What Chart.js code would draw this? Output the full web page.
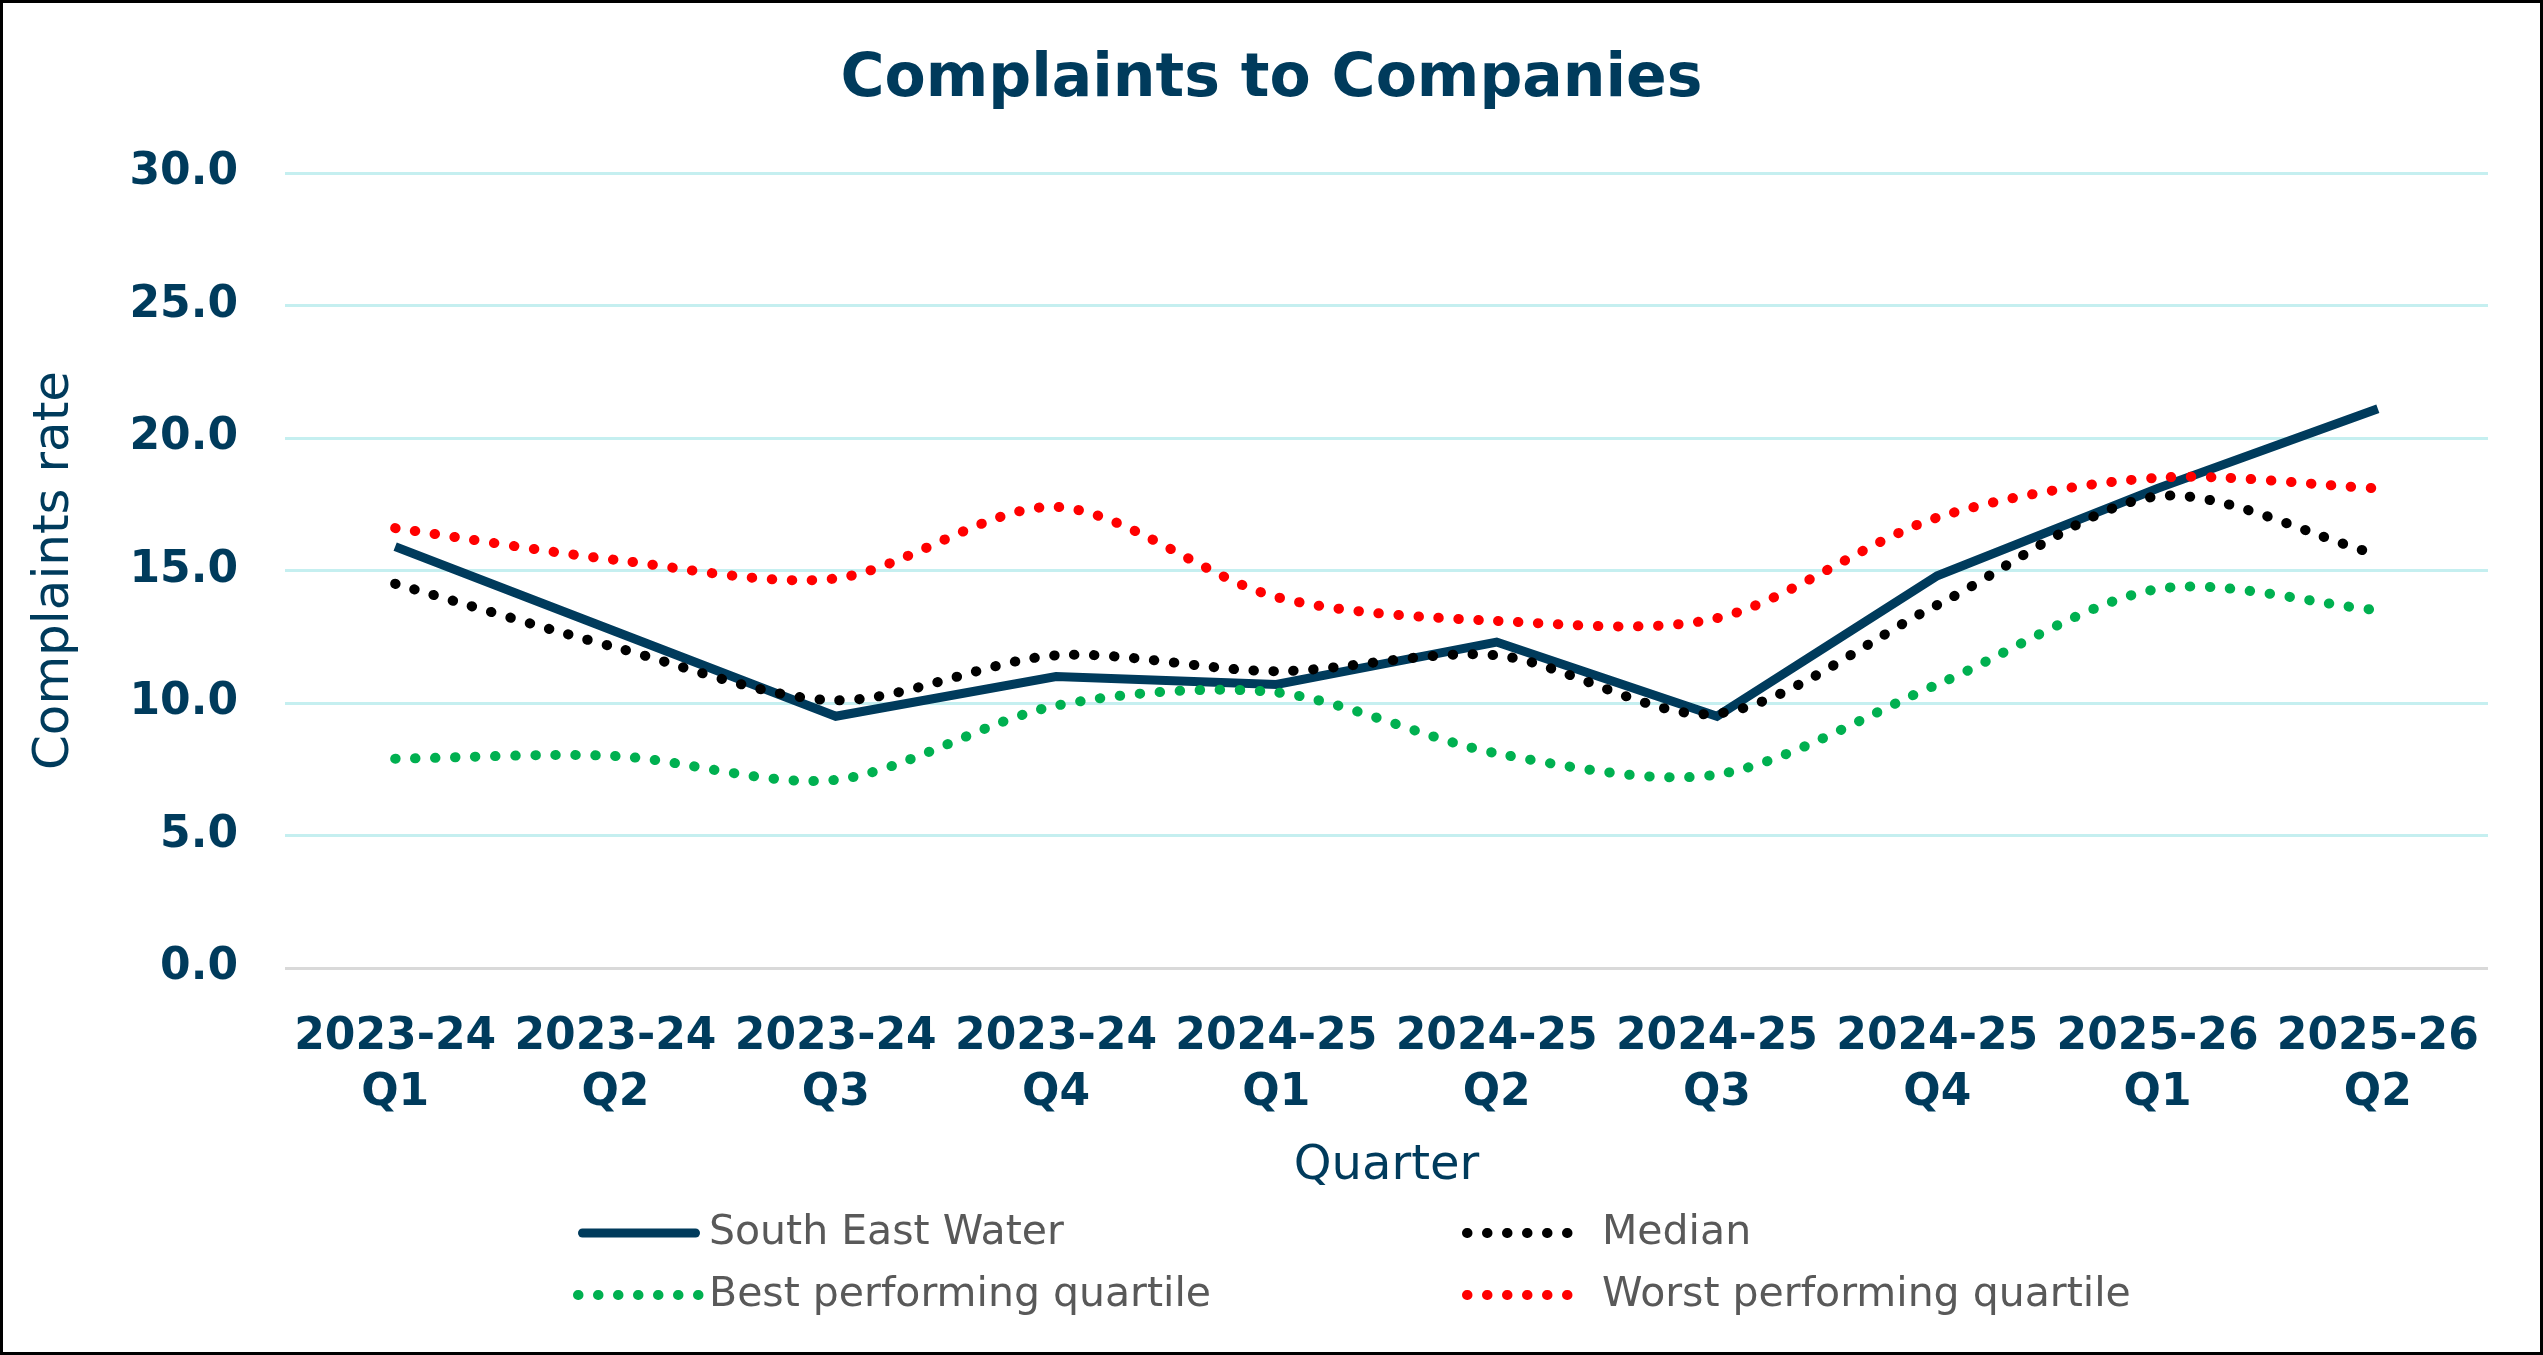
<!DOCTYPE html>
<html>
<head>
<meta charset="utf-8">
<title>Complaints to Companies</title>
<script src="https://cdn.jsdelivr.net/npm/chart.js@4.4.1/dist/chart.umd.min.js"></script>
<style>
  html, body { margin: 0; padding: 0; background: #fff; }
  #wrap { width: 2543px; height: 1355px; border: 3px solid #000; box-sizing: border-box; }
</style>
</head>
<body>
<div id="wrap"><canvas id="complaintsChart"></canvas></div>
<script>
// quarters, each label split over two lines
var quarters = [
  ['2023-24', 'Q1'], ['2023-24', 'Q2'], ['2023-24', 'Q3'], ['2023-24', 'Q4'],
  ['2024-25', 'Q1'], ['2024-25', 'Q2'], ['2024-25', 'Q3'], ['2024-25', 'Q4'],
  ['2025-26', 'Q1'], ['2025-26', 'Q2']
];
var southEastWater = [15.9, 12.7, 9.5, 11.0, 10.7, 12.3, 9.5, 14.8, 18.1, 21.1];
var median = [14.5, 12.1, 10.1, 11.8, 11.2, 11.8, 9.6, 13.7, 17.8, 15.6];
var bestQuartile = [7.9, 8.0, 7.1, 9.9, 10.4, 8.1, 7.3, 10.7, 14.3, 13.5];
var worstQuartile = [16.6, 15.4, 14.7, 17.4, 14.0, 13.1, 13.2, 17.0, 18.5, 18.1];
var yTicks = [0, 5, 10, 15, 20, 25, 30];

var navy = '#003B5C';
var font = "'DejaVu Sans', sans-serif";
var dots = [0.5, 19.5];

// two-column legend under the chart
var gridLegend = {
  id: 'gridLegend',
  afterDraw: function(chart) {
    var ctx = chart.ctx;
    var rows = [1230, 1292];
    var cols = [{x0: 575, x1: 697, tx: 706}, {x0: 1464, x1: 1572, tx: 1599}];
    chart.data.datasets.forEach(function(ds, i) {
      var col = cols[i % 2];
      var y = rows[Math.floor(i / 2)];
      var half = ds.borderDash ? 0 : ds.borderWidth / 2;
      ctx.save();
      ctx.strokeStyle = ds.borderColor;
      ctx.lineWidth = ds.borderWidth;
      ctx.lineCap = 'round';
      ctx.setLineDash(ds.borderDash || []);
      ctx.beginPath();
      ctx.moveTo(col.x0 + half, y);
      ctx.lineTo(col.x1 - half, y);
      ctx.stroke();
      ctx.setLineDash([]);
      ctx.fillStyle = '#595959';
      ctx.font = '41px ' + font;
      ctx.textBaseline = 'middle';
      ctx.textAlign = 'left';
      ctx.fillText(ds.label, col.tx, y);
      ctx.restore();
    });
  }
};

var ctx = document.getElementById('complaintsChart').getContext('2d');
var chart = new Chart(ctx, {
  type: 'line',
  data: {
    labels: quarters,
    datasets: [
      {
        label: 'South East Water',
        data: southEastWater,
        borderColor: navy,
        borderWidth: 9,
        tension: 0,
        order: 1
      },
      {
        label: 'Median',
        data: median,
        borderColor: '#000000',
        borderWidth: 10,
        borderDash: dots,
        borderCapStyle: 'round',
        tension: 0.3
      },
      {
        label: 'Best performing quartile',
        data: bestQuartile,
        borderColor: '#00B050',
        borderWidth: 10,
        borderDash: dots,
        borderCapStyle: 'round',
        tension: 0.3
      },
      {
        label: 'Worst performing quartile',
        data: worstQuartile,
        borderColor: '#FF0000',
        borderWidth: 10,
        borderDash: dots,
        borderCapStyle: 'round',
        tension: 0.3
      }
    ]
  },
  options: {
    responsive: true,
    maintainAspectRatio: false,
    devicePixelRatio: 1,
    animation: false,
    layout: { padding: { left: 0, right: 0, top: 0, bottom: 149 } },
    elements: { point: { radius: 0 } },
    plugins: {
      legend: { display: false },
      tooltip: { enabled: false },
      title: {
        display: true,
        text: 'Complaints to Companies',
        color: navy,
        font: { family: font, size: 60, weight: 'bold', lineHeight: 1.2 },
        padding: { top: 41, bottom: 57 }
      }
    },
    scales: {
      x: {
        offset: true,
        grid: { display: false },
        border: { display: false },
        ticks: {
          color: navy,
          padding: 33,
          maxRotation: 0,
          autoSkip: false,
          font: { family: font, size: 44, weight: 'bold', lineHeight: 1.28 }
        },
        title: {
          display: true,
          text: 'Quarter',
          color: navy,
          font: { family: font, size: 48, lineHeight: 1.2 },
          padding: { top: 0, bottom: 8 }
        },
        afterFit: function(scale) { scale.height = 235; }
      },
      y: {
        min: 0,
        max: 30,
        afterBuildTicks: function(scale) {
          scale.ticks = yTicks.map(function(v) { return { value: v }; });
        },
        grid: {
          drawTicks: false,
          lineWidth: 3,
          color: function(c) { return c.tick && c.tick.value === 0 ? '#D9D9D9' : '#C5EFF0'; }
        },
        border: { display: false },
        ticks: {
          color: navy,
          padding: 47,
          font: { family: font, size: 44, weight: 'bold' },
          callback: function(v) { return Number(v).toFixed(1); }
        },
        title: {
          display: true,
          text: 'Complaints rate',
          color: navy,
          font: { family: font, size: 50, lineHeight: 1.2 },
          padding: { top: 22, bottom: 0 }
        },
        afterFit: function(scale) { scale.width = 282; }
      },
      // empty right-hand margin so the title stays centred on the whole frame
      yMargin: {
        position: 'right',
        grid: { display: false },
        border: { display: false },
        ticks: { display: false },
        afterFit: function(scale) { scale.width = 52; }
      }
    }
  },
  plugins: [gridLegend]
});
</script>
</body>
</html>
